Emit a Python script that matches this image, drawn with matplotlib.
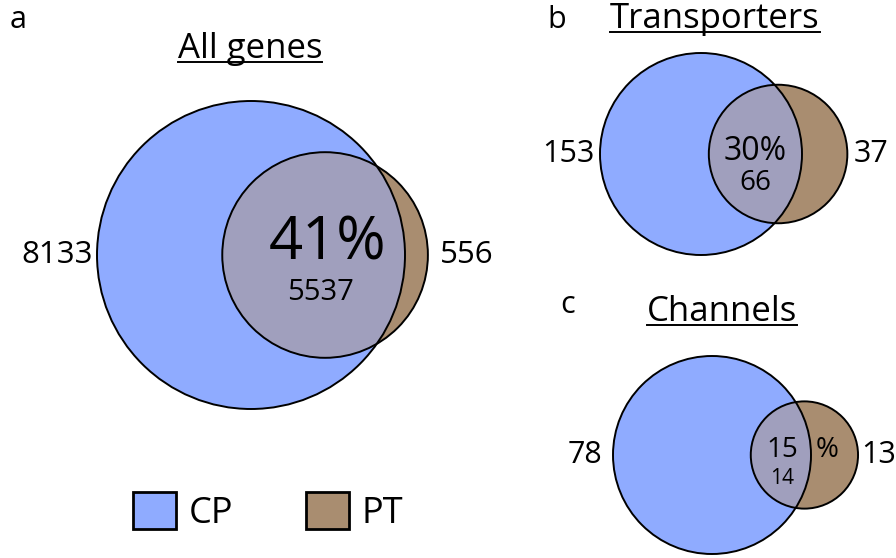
import numpy as np
import matplotlib.pyplot as plt
from matplotlib.patches import Circle, Patch
from matplotlib.lines import Line2D

plt.rcParams["font.family"] = ["Open Sans", "DejaVu Sans"]

# data
panel_letters = ["a", "b", "c"]
titles = ["All genes", "Transporters", "Channels"]
cp_only = [8133, 153, 78]
pt_only = [556, 37, 13]
shared = [5537, 66, 14]
shared_pct = [41, 30, 15]
set_names = ["CP", "PT"]

CP_COLOR = "#8fabff"
PT_COLOR = "#a98d70"
BOTH_COLOR = "#a09fbd"

W, H = 896, 558

# layout (pixels, origin top-left): CP centre, CP radius, label placement
layout = [
    dict(cx=251, cy=255, r=154, fs=22.5, pct_fs=43, cnt_fs=21,
         left_pad=4, right_pad=12, pct_dx=14, pct_dy=-11, cnt_dx=7, cnt_dy=37,
         title_x=250, title_y=58, letter_x=10, letter_y=28, split_pct=False),
    dict(cx=701, cy=154, r=101, fs=22, pct_fs=23, cnt_fs=20,
         left_pad=5, right_pad=6, pct_dx=0, pct_dy=-2, cnt_dx=0, cnt_dy=29,
         title_x=715, title_y=28, letter_x=547, letter_y=28, split_pct=False),
    dict(cx=712, cy=455, r=99, fs=22, pct_fs=20, cnt_fs=15,
         left_pad=11, right_pad=3, pct_dx=1, pct_dy=-5, cnt_dx=1, cnt_dy=23,
         title_x=722, title_y=321, letter_x=560, letter_y=313, split_pct=True),
]


def overlap_area(r1, r2, d):
    if d >= r1 + r2:
        return 0.0
    if d <= abs(r1 - r2):
        return np.pi * min(r1, r2) ** 2
    a1 = r1 ** 2 * np.arccos((d ** 2 + r1 ** 2 - r2 ** 2) / (2 * d * r1))
    a2 = r2 ** 2 * np.arccos((d ** 2 + r2 ** 2 - r1 ** 2) / (2 * d * r2))
    a3 = 0.5 * np.sqrt((-d + r1 + r2) * (d + r1 - r2) * (d - r1 + r2) * (d + r1 + r2))
    return a1 + a2 - a3


def solve_distance(r1, r2, target):
    lo, hi = abs(r1 - r2), r1 + r2
    for _ in range(100):
        mid = 0.5 * (lo + hi)
        if overlap_area(r1, r2, mid) > target:
            lo = mid
        else:
            hi = mid
    return 0.5 * (lo + hi)


fig = plt.figure(figsize=(W / 100, H / 100), dpi=100)
title_texts = []

for i, lay in enumerate(layout):
    cp_total = cp_only[i] + shared[i]
    pt_total = pt_only[i] + shared[i]
    r1 = np.sqrt(cp_total / np.pi)
    r2 = np.sqrt(pt_total / np.pi)
    d = solve_distance(r1, r2, shared[i])
    s = lay["r"] / r1  # pixels per data unit

    ax = fig.add_axes([0, 0, 1, 1])
    ax.set_xlim(-lay["cx"] / s, (W - lay["cx"]) / s)
    ax.set_ylim(-(H - lay["cy"]) / s, lay["cy"] / s)
    ax.axis("off")
    ax.patch.set_alpha(0)

    cp = Circle((0, 0), r1, facecolor=CP_COLOR, edgecolor="none")
    pt = Circle((d, 0), r2, facecolor=PT_COLOR, edgecolor="none")
    both = Circle((d, 0), r2, facecolor=BOTH_COLOR, edgecolor="none")
    ax.add_patch(cp)
    ax.add_patch(pt)
    ax.add_patch(both)
    both.set_clip_path(cp)
    ax.add_patch(Circle((0, 0), r1, fill=False, edgecolor="black", lw=1.4))
    ax.add_patch(Circle((d, 0), r2, fill=False, edgecolor="black", lw=1.4))

    px = 1 / s
    ax.text(-r1 - lay["left_pad"] * px, 0, f"{cp_only[i]}", ha="right", va="center",
            fontsize=lay["fs"])
    ax.text(d + r2 + lay["right_pad"] * px, 0, f"{pt_only[i]}", ha="left", va="center",
            fontsize=lay["fs"])

    lens_mid = 0.5 * ((d - r2) + r1)
    if lay["split_pct"]:
        ax.text(lens_mid + lay["pct_dx"] * px, -lay["pct_dy"] * px, f"{shared_pct[i]}",
                ha="center", va="center", fontsize=lay["pct_fs"])
        crescent_mid = 0.5 * (r1 + d + r2)
        ax.text(crescent_mid - 7 * px, -lay["pct_dy"] * px, "%",
                ha="center", va="center", fontsize=lay["pct_fs"])
    else:
        ax.text(lens_mid + lay["pct_dx"] * px, -lay["pct_dy"] * px, f"{shared_pct[i]}%",
                ha="center", va="center", fontsize=lay["pct_fs"])
    ax.text(lens_mid + lay["cnt_dx"] * px, -lay["cnt_dy"] * px, f"{shared[i]}",
            ha="center", va="center", fontsize=lay["cnt_fs"])

    fig.text(lay["letter_x"] / W, 1 - lay["letter_y"] / H, panel_letters[i],
             ha="left", va="baseline", fontsize=22)
    t = fig.text(lay["title_x"] / W, 1 - lay["title_y"] / H, titles[i],
                 ha="center", va="baseline", fontsize=25)
    title_texts.append((t, lay["title_y"]))

fig.legend(
    handles=[Patch(facecolor=CP_COLOR, edgecolor="black", lw=2),
             Patch(facecolor=PT_COLOR, edgecolor="black", lw=2)],
    labels=set_names, ncol=2, frameon=False, fontsize=26,
    handlelength=1.2, handleheight=1.2, handletextpad=0.35, columnspacing=2.0,
    loc="center", bbox_to_anchor=(268 / W, 1 - 512 / H),
)

# underline the titles
fig.canvas.draw()
renderer = fig.canvas.get_renderer()
for t, yb in title_texts:
    bb = t.get_window_extent(renderer)
    y = 1 - (yb + 4) / H
    fig.add_artist(Line2D([bb.x0 / W, bb.x1 / W], [y, y], transform=fig.transFigure,
                          color="black", lw=1.4))

fig.savefig("out.png", dpi=100)
